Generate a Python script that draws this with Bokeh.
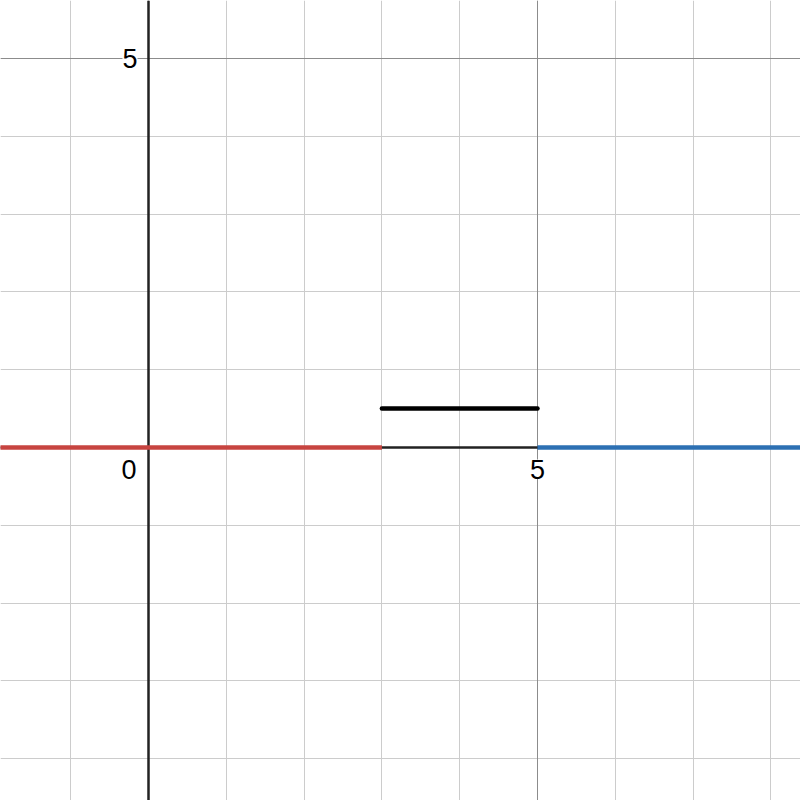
from bokeh.plotting import figure
from bokeh.models import Range1d, Grid, FixedTicker, Span, Label
from bokeh.embed import file_html
from bokeh.resources import INLINE

# Data
red_x = [-10, 3]
red_y = [0, 0]
black_x = [3, 5]
black_y = [0.5, 0.5]
blue_x = [5, 20]
blue_y = [0, 0]

minor_ticks = list(range(-10, 11))
major_ticks = [-10, -5, 0, 5, 10]
x_tick_labels = [(0, "0"), (5, "5")]
y_tick_labels = [(5, "5")]

S = 77.8
X0, Y0 = 148.0, 447.0
W = 800
p = figure(width=W, height=W, output_backend="svg", toolbar_location=None,
           x_range=Range1d((0 - X0) / S, (W - X0) / S),
           y_range=Range1d((Y0 - W) / S, (Y0 - 0) / S),
           min_border=0, x_axis_type=None, y_axis_type=None)
p.outline_line_color = None
p.background_fill_color = "white"
p.border_fill_color = "white"
p.grid.visible = False

for dim in (0, 1):
    g = Grid(dimension=dim, ticker=FixedTicker(ticks=minor_ticks),
             grid_line_color="#cccccc", grid_line_width=1)
    p.add_layout(g)
for dim in (0, 1):
    g = Grid(dimension=dim, ticker=FixedTicker(ticks=major_ticks),
             grid_line_color="#8c8c8c", grid_line_width=1)
    p.add_layout(g)

p.add_layout(Span(location=0, dimension="height", line_color="#222222", line_width=2.5, level="underlay"))
p.add_layout(Span(location=0, dimension="width", line_color="#222222", line_width=2.5, level="underlay"))

p.line(red_x, red_y, line_color="#c74440", line_width=4.5)
p.line(blue_x, blue_y, line_color="#2d70b3", line_width=4.5)
p.line(black_x, black_y, line_color="#000000", line_width=4.5, line_cap="round")

FONT = "Liberation Sans"
FS = "27px"
for v, t in y_tick_labels:
    p.add_layout(Label(x=0, y=v, text=t, text_align="right", text_baseline="middle",
                       x_offset=-11, text_font=FONT, text_font_size=FS, text_color="black",
                       background_fill_color="white", background_fill_alpha=1.0))
for v, t in x_tick_labels:
    if v == 0:
        p.add_layout(Label(x=0, y=0, text=t, text_align="right", text_baseline="top",
                           x_offset=-12, y_offset=-12, text_font=FONT, text_font_size=FS,
                           text_color="black", background_fill_color="white", background_fill_alpha=1.0))
    else:
        p.add_layout(Label(x=v, y=0, text=t, text_align="center", text_baseline="top",
                           y_offset=-12, text_font=FONT, text_font_size=FS,
                           text_color="black", background_fill_color="white", background_fill_alpha=1.0))

open("out.html", "w").write(file_html(p, INLINE))
